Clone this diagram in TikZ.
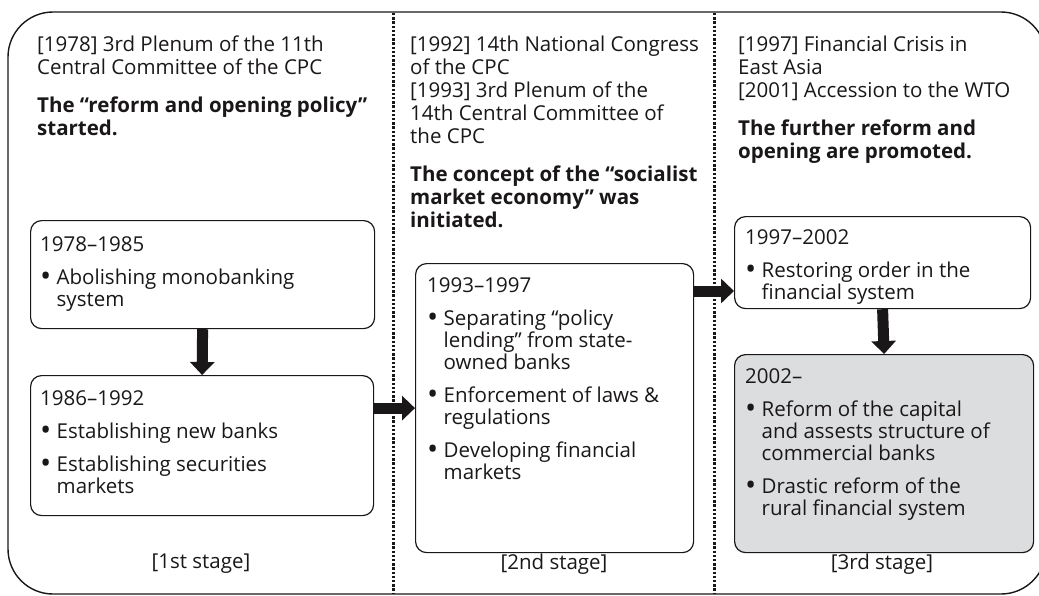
\documentclass[tikz,border=0pt]{standalone}
\usepackage{fontspec}
\setmainfont{Open Sans}
\usepackage{tikz}
\usetikzlibrary{arrows.meta,calc}
\definecolor{encre}{HTML}{1A1718}
\definecolor{grisclair}{HTML}{DCDDDE}
\tikzset{cadre/.style={
    draw=encre,
    line width=1.4pt,
    rounded corners=45pt}}
\tikzset{separation/.style={
    draw=encre,
    line width=3pt,
    dash pattern=on 2.4pt off 1.8pt}}
\tikzset{periode/.style={
    draw=encre,
    line width=1.2pt,
    rounded corners=11pt,
    inner sep=0pt,
    anchor=north west}}
\tikzset{texte/.style={
    anchor=north west,
    inner sep=0pt,
    align=left,
    text=encre,
    font=\fontsize{20.5}{23}\selectfont}}
\tikzset{contenu/.style={
    texte,
    font=\fontsize{20.5}{22}\selectfont}}
\tikzset{fleche/.style={
    draw=encre,
    line width=11pt,
    -{Triangle[length=13pt,width=24pt]}}}
\tikzset{etape/.style={
    text=encre,
    font=\fontsize{20.5}{23}\selectfont}}
\newcommand{\puce}{\raisebox{-0.12em}{\scalebox{1.45}{\textbullet}}\ }
\newcommand{\retrait}{\phantom{\scalebox{1.45}{\textbullet}}\ }

\begin{document}
\begin{tikzpicture}[x=1pt,y=-1pt]
\useasboundingbox (0,0) rectangle (1039,595);
\coordinate (NO) at (8,12);
\coordinate (SE) at (1046,594);
\coordinate (cd) at (0,291);

\path[cadre] (NO) rectangle (SE);
\path[separation] (393,13) -- (393,593);
\path[separation] (714,13) -- (714,593);

\node[texte] (h1) at (37,36) {[1978] 3rd Plenum of the 11th\\Central Committee of the CPC\\[15pt]
  \textbf{The “reform and opening policy”}\\\textbf{started.}};
\node[texte] (h2) at (410,36) {[1992] 14th National Congress\\of the CPC\\{}[1993] 3rd Plenum of the\\14th Central Committee of\\the CPC\\[15pt]
  \textbf{The concept of the “socialist}\\\textbf{market economy” was}\\\textbf{initiated.}};
\node[texte] (h3) at (738,36) {[1997] Financial Crisis in\\East Asia\\{}[2001] Accession to the WTO\\[15pt]
  \textbf{The further reform and}\\\textbf{opening are promoted.}};

\node[periode,minimum width=344pt,minimum height=108pt] (A) at (30,220) {};
\node[periode,minimum width=343pt,minimum height=140pt] (B) at (30,375) {};
\node[periode,minimum width=278pt,minimum height=289pt] (C) at (415,263) {};
\node[periode,minimum width=296pt,minimum height=92pt] (D) at (734,216) {};
\node[periode,fill=grisclair,minimum width=299pt,minimum height=198pt] (E) at (734,354) {};

\node[contenu] (tA) at (40,236) {1978–1985\\[11pt]\puce Abolishing monobanking\\\retrait system};
\node[contenu] (tB) at (40,390) {1986–1992\\[11pt]\puce Establishing new banks\\[11pt]\puce Establishing securities\\\retrait markets};
\node[contenu] (tC) at (427,277) {1993–1997\\[11pt]\puce Separating “policy\\\retrait lending” from state-\\\retrait owned banks\\[11pt]
  \puce Enforcement of laws \&\\\retrait regulations\\[11pt]\puce Developing financial\\\retrait markets};
\node[contenu] (tD) at (745,229) {1997–2002\\[11pt]\puce Restoring order in the\\\retrait financial system};
\node[contenu] (tE) at (745,368) {2002–\\[11pt]\puce Reform of the capital\\\retrait and assests structure of\\\retrait commercial banks\\[11pt]
  \puce Drastic reform of the\\\retrait rural financial system};

\draw[fleche] (A.south) -- (B.north);
\draw[fleche] (B.east |- C.west) -- (C.west);
\draw[fleche] (C.east |- cd) -- (D.west |- cd);
\draw[fleche] (D.south) -- (E.north);

\node[etape] (s1) at (201,564) {[1st stage]};
\node[etape] (s2) at (554,564) {[2nd stage]};
\node[etape] (s3) at (882,564) {[3rd stage]};
\end{tikzpicture}
\end{document}
